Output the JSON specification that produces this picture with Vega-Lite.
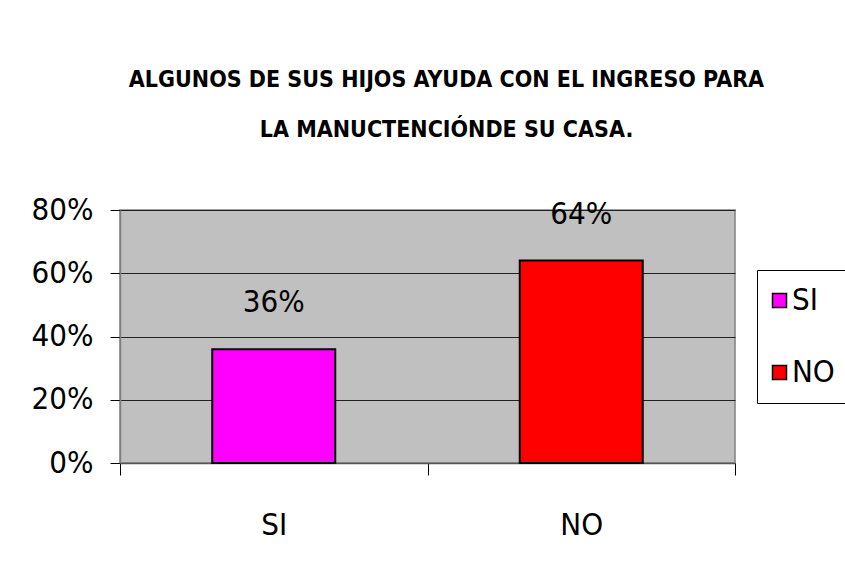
{
  "$schema": "https://vega.github.io/schema/vega-lite/v6.json",
  "autosize": {"type": "none"},
  "width": 615,
  "height": 253,
  "padding": {"left": 120, "top": 210, "right": 110, "bottom": 125},
  "background": "white",
  "title": {
    "text": ["ALGUNOS DE SUS HIJOS AYUDA CON EL INGRESO PARA", "LA MANUCTENCIÓNDE SU CASA."],
    "font": "DejaVu Sans Condensed",
    "fontSize": 23,
    "fontWeight": "bold",
    "color": "black",
    "lineHeight": 50,
    "anchor": "middle",
    "frame": "group",
    "dx": 19,
    "offset": 52
  },
  "data": {
    "values": [
      {"respuesta": "SI", "porcentaje": 0.36},
      {"respuesta": "NO", "porcentaje": 0.64}
    ]
  },
  "config": {
    "font": "DejaVu Sans Condensed",
    "view": {"fill": "#C0C0C0", "stroke": "#808080", "strokeWidth": 1.5}
  },
  "encoding": {
    "x": {
      "field": "respuesta",
      "type": "nominal",
      "sort": ["SI", "NO"],
      "scale": {"paddingInner": 0, "paddingOuter": 0},
      "axis": {
        "title": null,
        "labelAngle": 0,
        "labelFont": "DejaVu Sans Condensed",
        "labelFontSize": 31,
        "labelColor": "black",
        "labelPadding": 35,
        "tickBand": "extent",
        "tickSize": 12,
        "tickColor": "black",
        "domainColor": "#555555",
        "domainWidth": 1.5,
        "grid": false
      }
    },
    "y": {
      "field": "porcentaje",
      "type": "quantitative",
      "scale": {"domain": [0, 0.8]},
      "axis": {
        "title": null,
        "values": [0, 0.2, 0.4, 0.6, 0.8],
        "format": ".0%",
        "labelFont": "DejaVu Sans Condensed",
        "labelFontSize": 31,
        "labelColor": "black",
        "labelPadding": 17,
        "tickSize": 10,
        "tickColor": "black",
        "domainColor": "#808080",
        "domainWidth": 1.5,
        "grid": true,
        "gridColor": "#222222",
        "gridWidth": 1
      }
    }
  },
  "layer": [
    {
      "mark": {"type": "bar", "width": {"band": 0.4}, "stroke": "black", "strokeWidth": 2},
      "encoding": {
        "color": {
          "field": "respuesta",
          "type": "nominal",
          "sort": ["SI", "NO"],
          "scale": {"domain": ["SI", "NO"], "range": ["#FF00FF", "#FF0000"]},
          "legend": {
            "title": null,
            "orient": "none",
            "legendX": 637,
            "legendY": 60,
            "direction": "vertical",
            "symbolType": "square",
            "symbolSize": 196,
            "symbolStrokeColor": "black",
            "symbolStrokeWidth": 1.5,
            "symbolOffset": -8,
            "labelFont": "DejaVu Sans Condensed",
            "labelFontSize": 31,
            "labelColor": "black",
            "labelOffset": -3,
            "rowPadding": 40,
            "padding": 15,
            "strokeColor": "black",
            "fillColor": "white"
          }
        }
      }
    },
    {
      "mark": {"type": "text", "baseline": "bottom", "dy": -30, "fontSize": 31, "font": "DejaVu Sans Condensed", "color": "black"},
      "encoding": {
        "text": {"field": "porcentaje", "type": "quantitative", "format": ".0%"}
      }
    }
  ]
}
